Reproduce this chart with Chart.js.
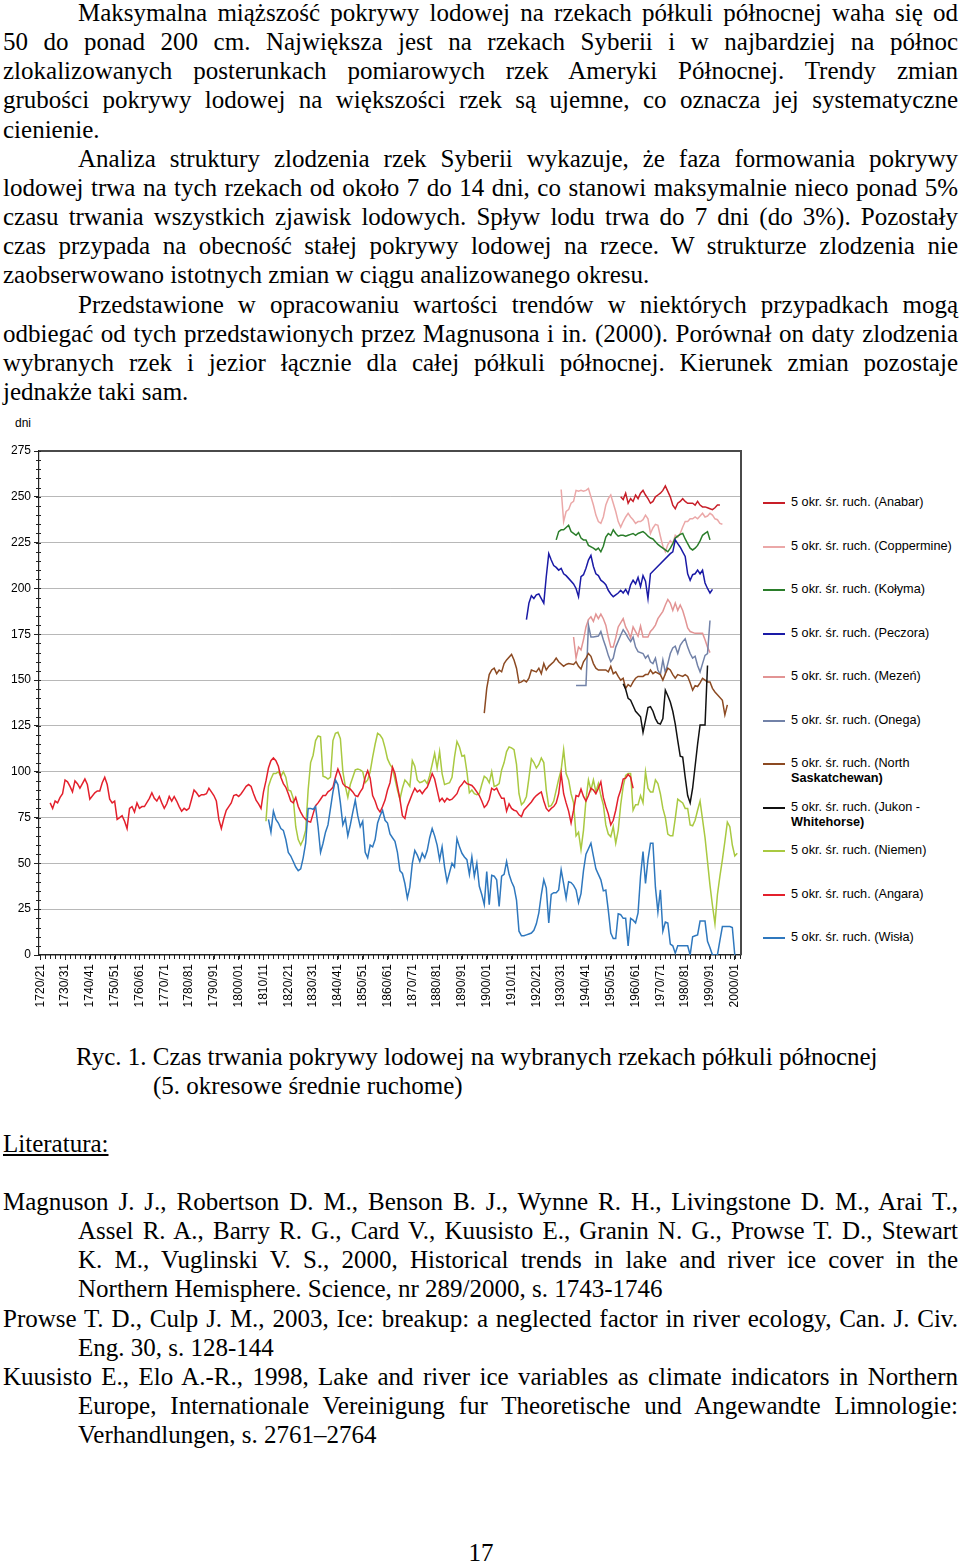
<!DOCTYPE html>
<html lang="pl">
<head>
<meta charset="utf-8">
<title>Czas trwania pokrywy lodowej</title>
<script src="https://cdn.jsdelivr.net/npm/chart.js@4.4.1/dist/chart.umd.min.js"></script>
<style>
  html, body { margin: 0; padding: 0; background: #fff; }
  body { position: relative; width: 960px; height: 1564px; overflow: hidden; color: #000;
         font-family: "Times New Roman", "Liberation Serif", serif; }
  .block { position: absolute; left: 3px; width: 955px; font-size: 25px; line-height: 29.15px; }
  .block div { text-align: justify; text-align-last: justify; }
  .block .in { padding-left: 75px; }
  .block .end { text-align-last: left; }
  .abs { position: absolute; font-size: 25px; line-height: 29px; white-space: nowrap; }
  #chart { position: absolute; left: 0; top: 440px; }
  .axis-title { position: absolute; left: 15px; top: 416px; font: 12px Arial, "Liberation Sans", sans-serif; }
  .leg { position: absolute; left: 763px; font: 12.7px Arial, "Liberation Sans", sans-serif; line-height: 15px; }
  .leg i { position: absolute; left: 0; top: 7px; width: 22px; height: 0; }
  .leg span { display: block; margin-left: 28px; white-space: nowrap; }
  .leg b { display: block; margin-left: 28px; }
</style>
</head>
<body>

<div class="block" style="top:-2px">
  <div class="in">Maksymalna miąższość pokrywy lodowej na rzekach półkuli północnej waha się od</div>
  <div>50 do ponad 200 cm. Największa jest na rzekach Syberii i w najbardziej na północ</div>
  <div>zlokalizowanych posterunkach pomiarowych rzek Ameryki Północnej. Trendy zmian</div>
  <div>grubości pokrywy lodowej na większości rzek są ujemne, co oznacza jej systematyczne</div>
  <div class="end">cienienie.</div>
  <div class="in">Analiza struktury zlodzenia rzek Syberii wykazuje, że faza formowania pokrywy</div>
  <div>lodowej trwa na tych rzekach od około 7 do 14 dni, co stanowi maksymalnie nieco ponad 5%</div>
  <div>czasu trwania wszystkich zjawisk lodowych. Spływ lodu trwa do 7 dni (do 3%). Pozostały</div>
  <div>czas przypada na obecność stałej pokrywy lodowej na rzece. W strukturze zlodzenia nie</div>
  <div class="end">zaobserwowano istotnych zmian w ciągu analizowanego okresu.</div>
  <div class="in">Przedstawione w opracowaniu wartości trendów w niektórych przypadkach mogą</div>
  <div>odbiegać od tych przedstawionych przez Magnusona i in. (2000). Porównał on daty zlodzenia</div>
  <div>wybranych rzek i jezior łącznie dla całej półkuli północnej. Kierunek zmian pozostaje</div>
  <div class="end">jednakże taki sam.</div>
</div>

<div class="axis-title">dni</div>
<canvas id="chart" width="745" height="575"></canvas>
<div id="legend"></div>

<div class="abs" style="left:76px;top:1042px">Ryc. 1. Czas trwania pokrywy lodowej na wybranych rzekach półkuli północnej</div>
<div class="abs" style="left:153px;top:1071px">(5. okresowe średnie ruchome)</div>
<div class="abs" style="left:3px;top:1129px;text-decoration:underline">Literatura:</div>

<div class="block" style="top:1187px">
  <div>Magnuson J. J., Robertson D. M., Benson B. J., Wynne R. H., Livingstone D. M., Arai T.,</div>
  <div class="in">Assel R. A., Barry R. G., Card V., Kuusisto E., Granin N. G., Prowse T. D., Stewart</div>
  <div class="in">K. M., Vuglinski V. S., 2000, Historical trends in lake and river ice cover in the</div>
  <div class="in end">Northern Hemisphere. Science, nr 289/2000, s. 1743-1746</div>
  <div>Prowse T. D., Culp J. M., 2003, Ice: breakup: a neglected factor in river ecology, Can. J. Civ.</div>
  <div class="in end">Eng. 30, s. 128-144</div>
  <div>Kuusisto E., Elo A.-R., 1998, Lake and river ice variables as climate indicators in Northern</div>
  <div class="in">Europe, Internationale Vereinigung fur Theoretische und Angewandte Limnologie:</div>
  <div class="in end">Verhandlungen, s. 2761–2764</div>
</div>

<div class="abs" style="left:0;width:962px;text-align:center;top:1538px">17</div>

<script>
// 5-year moving averages of ice cover duration [season start year, days]
const anabar = [[1954,250],[1955,248.5],[1956,252],[1957,246.5],[1958,249],[1959,247.5],[1960,251],[1961,249],[1962,252],[1963,253.5],[1964,251],[1965,249],[1966,246.5],[1967,247.5],[1968,250],[1969,251],[1970,252],[1971,253.5],[1972,256],[1973,253],[1974,250],[1975,245.5],[1976,243.5],[1977,246.5],[1978,247.5],[1979,249],[1980,247.5],[1981,246.5],[1982,246.5],[1983,246.5],[1984,245.5],[1985,247.5],[1986,245.5],[1987,244.5],[1988,244.5],[1989,244],[1990,243.5],[1991,243],[1992,244],[1993,245.5],[1994,245.5]];

const coppermine = [[1930,254],[1931,236.5],[1932,242],[1933,243],[1934,246.5],[1935,247.5],[1936,253.5],[1937,253],[1938,253.5],[1939,253],[1940,253.5],[1941,254.5],[1942,250],[1943,245.5],[1944,240],[1945,236.5],[1946,235.5],[1947,239],[1948,245.5],[1949,249],[1950,251],[1951,246.5],[1952,242],[1953,236.5],[1954,233.5],[1955,236.5],[1956,239],[1957,241],[1958,239],[1959,237.5],[1960,235.5],[1961,236.5],[1962,236.5],[1963,237.5],[1964,240],[1965,238],[1966,230],[1967,233],[1968,235],[1969,234.5],[1970,228.5],[1971,223],[1972,220],[1973,224],[1974,226],[1975,224.5],[1976,229],[1977,228],[1978,230],[1979,233.5],[1980,236.5],[1981,236.5],[1982,238],[1983,238],[1984,239],[1985,238],[1986,239.5],[1987,241],[1988,239],[1989,239.5],[1990,241],[1991,240],[1992,238],[1993,237.5],[1994,235.5],[1995,235]];

const kolyma = [[1928,226.5],[1929,231],[1930,232],[1931,232],[1933,234.5],[1934,231],[1935,230],[1936,229],[1937,230.5],[1938,227.5],[1939,226.5],[1940,226.5],[1941,223.5],[1943,222],[1944,221],[1945,222],[1946,220],[1947,223],[1948,228],[1949,230],[1950,229],[1951,232],[1952,230],[1953,228.5],[1954,229],[1955,229],[1956,228.5],[1957,229],[1958,229.5],[1959,230],[1960,229],[1961,230],[1962,230.5],[1963,231],[1964,230],[1965,228.5],[1966,227.5],[1967,227],[1968,225.5],[1969,224],[1970,223],[1971,222],[1972,221],[1973,220],[1974,222],[1975,224.5],[1976,227.5],[1977,228.5],[1978,229.5],[1979,230],[1980,227],[1981,224.5],[1982,222],[1983,221],[1984,222],[1985,223.5],[1986,226],[1987,229],[1988,230],[1989,231],[1990,226.5]];

const peczora = [[1916,183],[1917,192],[1918,196],[1919,194.5],[1920,196.5],[1921,197],[1922,194.5],[1923,192],[1924,206.5],[1925,219],[1926,215.5],[1927,212.5],[1928,211.5],[1929,210],[1930,211],[1931,208],[1932,207],[1933,205.5],[1935,202.5],[1936,200],[1937,195.5],[1938,206.5],[1939,207.5],[1940,211],[1941,215.5],[1942,218],[1943,212],[1944,208],[1945,207],[1946,204.5],[1947,203.5],[1948,202],[1949,199],[1950,197],[1951,195.5],[1952,196.5],[1953,197.5],[1954,199],[1955,197.5],[1956,199.5],[1957,197],[1958,202],[1959,204.5],[1960,202.5],[1961,206],[1962,201],[1963,207],[1964,204],[1965,194.5],[1966,208],[1974,219],[1975,220],[1976,226.5],[1977,224.5],[1978,222.5],[1979,220],[1980,217.5],[1981,208],[1982,204.5],[1983,207.5],[1984,208],[1985,210],[1986,208],[1987,210],[1988,203],[1989,200],[1990,197.5],[1991,199.5]];

const mezen = [[1935,173.5],[1936,162],[1937,168],[1938,166.5],[1939,172],[1940,179],[1941,183],[1942,184.5],[1943,182],[1944,186],[1945,183.5],[1946,186],[1947,183.5],[1948,180],[1949,173.5],[1950,168],[1951,168],[1952,173],[1953,179],[1955,183.5],[1956,179],[1957,176.5],[1958,173],[1959,179],[1960,176.5],[1961,174],[1962,179.5],[1963,173.5],[1965,173.5],[1966,176.5],[1967,178],[1968,180],[1969,183.5],[1971,187.5],[1972,191],[1973,194],[1974,192],[1975,188],[1976,192],[1977,188],[1978,191],[1979,188],[1980,183.5],[1981,178.5],[1982,176.5],[1984,175.5],[1986,175.5],[1987,175.5],[1988,172],[1989,168],[1990,165]];

const onega = [[1936,147],[1940,147],[1941,180],[1942,173.5],[1943,173.5],[1945,174],[1946,176.5],[1947,172],[1948,168],[1949,163.5],[1950,160],[1951,162],[1952,168],[1954,174.5],[1955,177.5],[1956,175.5],[1957,173],[1958,171],[1959,173.5],[1960,168],[1961,165.5],[1963,164.5],[1964,162],[1965,163.5],[1966,160],[1967,159],[1968,162],[1969,155.5],[1970,153],[1971,161],[1972,154],[1973,159],[1974,164.5],[1975,167.5],[1976,168.5],[1977,164.5],[1978,169],[1979,171],[1980,172.5],[1981,168],[1982,164.5],[1983,162],[1984,163],[1985,158],[1986,154.5],[1987,159],[1988,163.5],[1989,164.5],[1990,182.5]];

const northSask = [[1899,132],[1900,145.5],[1901,153],[1902,155.5],[1903,156.5],[1904,153.5],[1905,155.5],[1906,154.5],[1907,159],[1908,161],[1910,164],[1911,161],[1912,156.5],[1913,148.5],[1914,149],[1915,150],[1916,149],[1917,151],[1918,155.5],[1920,154.5],[1921,156.5],[1922,153.5],[1923,159],[1924,155.5],[1925,157.5],[1927,160],[1928,162],[1929,160],[1931,157.5],[1932,158.5],[1933,159],[1935,158.5],[1936,160],[1937,157.5],[1938,156],[1939,160],[1940,162],[1941,164.5],[1942,163],[1943,159],[1944,156.5],[1945,155.5],[1946,155.5],[1948,155.5],[1949,154.5],[1950,157.5],[1951,153.5],[1952,154.5],[1953,152],[1954,150],[1955,151],[1956,145.5],[1957,147.5],[1958,146.5],[1959,149],[1960,151],[1961,152],[1963,152],[1964,153],[1965,153],[1966,155.5],[1967,153.5],[1968,154.5],[1970,153],[1971,150],[1972,153.5],[1973,156.5],[1974,155.5],[1975,153],[1976,151],[1977,153],[1979,152],[1980,153],[1981,152],[1982,148.5],[1983,144.5],[1984,147],[1985,146.5],[1986,148.5],[1987,151],[1988,150],[1989,149],[1990,149],[1991,145.5],[1992,143.5],[1993,142],[1995,139],[1996,131],[1997,136.5]];

const jukon = [[1955,148],[1956,145],[1957,140],[1958,139],[1959,136],[1960,133],[1961,131.5],[1962,130],[1963,121.5],[1964,128],[1965,135],[1966,135.5],[1967,133],[1968,129],[1969,126.5],[1970,126],[1971,129],[1972,144.5],[1973,141.5],[1974,138],[1975,133],[1976,126],[1977,117],[1978,108.5],[1979,108],[1980,97],[1981,87],[1982,83],[1983,91],[1984,103],[1985,115],[1986,125.5],[1988,125.5],[1989,158]];

const niemen = [[1811,73],[1812,92],[1813,96],[1814,99],[1815,99],[1816,100],[1817,97.5],[1818,100],[1819,97],[1820,90],[1821,89.5],[1822,85.5],[1823,70],[1824,63],[1825,60],[1826,63],[1827,68],[1828,90],[1829,105],[1830,109],[1831,117],[1832,119.5],[1833,119],[1834,97.5],[1835,97],[1836,96],[1837,97],[1838,117],[1839,121],[1840,121.5],[1841,118],[1842,100],[1843,92],[1844,86],[1845,93],[1846,97],[1847,101],[1848,101.5],[1849,101],[1850,100],[1851,94],[1852,95.5],[1853,100],[1854,108],[1855,115],[1856,121],[1857,120],[1858,118],[1859,113],[1860,107],[1861,104],[1862,102],[1863,96],[1864,90],[1865,85],[1866,91],[1867,95.5],[1868,94],[1869,92],[1870,106],[1871,103],[1872,95.5],[1873,94],[1874,94.5],[1875,95.5],[1876,93.5],[1877,98],[1878,104],[1879,110],[1880,102],[1881,111],[1882,99],[1883,93],[1884,93.5],[1885,94],[1886,97],[1887,108],[1888,116.5],[1889,113.5],[1890,108.5],[1891,109],[1892,100],[1893,88.5],[1894,90],[1895,88],[1896,87.5],[1897,88],[1898,93],[1899,97.5],[1900,96.5],[1901,94],[1902,100],[1903,92],[1904,92.5],[1905,93.5],[1906,101],[1907,105],[1908,111],[1909,113.5],[1910,113],[1911,112],[1912,104],[1913,88],[1914,82],[1915,83.5],[1916,86.5],[1917,96.5],[1918,107],[1919,105],[1920,102],[1921,104],[1922,107.5],[1923,105],[1924,90],[1925,81],[1926,81.5],[1927,84],[1928,90],[1929,96],[1930,101],[1931,112],[1932,99],[1933,95.5],[1934,88],[1935,83],[1936,65],[1937,67],[1938,57.5],[1939,68],[1940,84.5],[1941,95.5],[1942,90],[1943,95.5],[1944,89],[1945,93.5],[1946,87],[1947,82],[1948,71],[1949,66],[1950,64.5],[1951,70],[1952,61],[1953,68],[1954,82],[1955,92],[1956,98],[1957,99],[1958,99],[1959,79],[1960,82],[1961,82],[1962,87],[1963,83],[1964,100],[1965,91],[1966,89],[1967,89],[1968,95.5],[1969,93.5],[1970,88],[1971,80],[1972,75],[1973,66],[1974,65],[1975,65],[1976,74.5],[1977,85],[1978,84],[1979,83],[1980,80],[1981,80],[1982,71],[1983,70.5],[1984,73.5],[1985,79],[1986,84],[1987,74],[1988,64],[1989,51],[1990,38],[1991,27],[1992,17],[1993,33],[1994,43],[1995,52],[1996,62],[1997,72.5],[1998,70],[1999,60],[2000,54],[2001,55.5]];

const angara = [[1724,83],[1725,80],[1726,84],[1727,83],[1728,86],[1729,88],[1730,95.5],[1731,94.5],[1732,92],[1733,89],[1734,95],[1735,93.5],[1736,91],[1737,93.5],[1738,96],[1739,93],[1740,85],[1742,88.5],[1743,89.5],[1744,89.5],[1745,94],[1746,97],[1747,93],[1748,85],[1749,83],[1750,84],[1751,74],[1752,75],[1753,76],[1754,73],[1755,69],[1756,80],[1757,81],[1758,78],[1759,83],[1760,80],[1761,81],[1762,81],[1764,85.5],[1765,88.5],[1766,85.5],[1767,84],[1768,86.5],[1769,83],[1770,80],[1771,82.5],[1772,86.5],[1773,84],[1774,86.5],[1775,84],[1776,81],[1777,78.5],[1778,80],[1779,79],[1780,80],[1781,85],[1782,90],[1783,88.5],[1784,86.5],[1785,87.5],[1786,87.5],[1787,88],[1788,91],[1789,89],[1790,87],[1791,84],[1792,74],[1793,69],[1794,74.5],[1795,79],[1796,81],[1797,83],[1798,87],[1799,87.5],[1800,86.5],[1801,88],[1802,90],[1803,92],[1804,93],[1805,92],[1806,88],[1807,84.5],[1808,82.5],[1809,80],[1810,89],[1811,95],[1812,102],[1813,106],[1814,107.5],[1815,106],[1816,103],[1817,97],[1818,93.5],[1819,91.5],[1820,88],[1821,84],[1822,83],[1823,86],[1824,81],[1825,78],[1826,75.5],[1827,74],[1828,73],[1829,72.5],[1830,77],[1831,81.5],[1832,83],[1833,85],[1834,87],[1835,87],[1836,89],[1837,90],[1838,91.5],[1839,97],[1840,101.5],[1841,98],[1842,93.5],[1843,92],[1844,91.5],[1845,90.5],[1846,89],[1847,87],[1848,86.5],[1849,89],[1850,91],[1851,97],[1852,100.5],[1853,96.5],[1854,87],[1855,84],[1856,80],[1857,78],[1858,81],[1859,84.5],[1860,90],[1861,94],[1862,102.5],[1863,99],[1864,92],[1865,85],[1866,76],[1867,74.5],[1868,81],[1869,84.5],[1870,88],[1871,91],[1872,89],[1873,90],[1874,88],[1875,90],[1876,91.5],[1877,95],[1878,99],[1879,96],[1880,90],[1881,84],[1882,85.5],[1883,83.5],[1884,85.5],[1885,84.5],[1886,85],[1887,86.5],[1888,88],[1889,91.5],[1890,93],[1891,95],[1892,93.5],[1893,93],[1894,92.5],[1895,91],[1896,89],[1897,87],[1898,84],[1899,80.5],[1900,82],[1901,85],[1902,91],[1903,90],[1904,91],[1905,88],[1906,85.5],[1907,85.5],[1908,78.5],[1909,82.5],[1910,80],[1911,79],[1912,78.5],[1913,76.5],[1914,75.5],[1915,79],[1916,80.5],[1917,82],[1918,83.5],[1919,85.5],[1920,87],[1921,88],[1922,89],[1923,84],[1924,80],[1925,78.5],[1926,80],[1927,81],[1928,83],[1929,88],[1930,99],[1931,88],[1932,83],[1933,78.5],[1934,72],[1935,79],[1936,87],[1937,86.5],[1938,90.5],[1939,86.5],[1940,84],[1941,87],[1942,91],[1943,90],[1944,88],[1945,91],[1946,94.5],[1947,86],[1948,81],[1949,77],[1950,71],[1951,73.5],[1952,79],[1953,86],[1954,90],[1955,96],[1956,96.5],[1957,98.5],[1958,97],[1959,91]];

const wisla = [[1812,74],[1813,67],[1814,78.5],[1815,74],[1816,72],[1817,69],[1818,68],[1819,63],[1820,56],[1821,54],[1822,51],[1823,48],[1824,46],[1825,47],[1826,53],[1827,61],[1828,80],[1829,80],[1830,79.5],[1831,81],[1832,70],[1833,56],[1834,61],[1835,67],[1836,71],[1837,80],[1838,89],[1839,95.5],[1840,93],[1841,83],[1842,71],[1843,74.5],[1844,65],[1845,71],[1846,78],[1847,84.5],[1848,76],[1849,70],[1850,73],[1851,56],[1852,53],[1853,60],[1854,59],[1855,63],[1856,72],[1857,76],[1858,79],[1859,73.5],[1860,72],[1861,66],[1862,64],[1863,62],[1864,56],[1865,46],[1866,44.5],[1867,39],[1868,31],[1869,37],[1870,50],[1871,57],[1872,54.5],[1873,51],[1874,55.5],[1875,53],[1876,57],[1877,64],[1878,69],[1879,65],[1880,60],[1881,52],[1882,59],[1883,48],[1884,40],[1885,45],[1886,50],[1887,48],[1888,63.5],[1889,59],[1890,55.5],[1891,53.5],[1892,52],[1893,44],[1894,53.5],[1895,43],[1896,50],[1897,37.5],[1898,33],[1899,27.5],[1900,45.5],[1901,27.5],[1902,43.5],[1903,43],[1904,41],[1905,26.5],[1906,43],[1907,44],[1908,51],[1909,44],[1910,40],[1911,37],[1912,30],[1913,13],[1914,10.5],[1915,10.5],[1916,11],[1917,11.5],[1918,12],[1919,13.5],[1920,17],[1921,23],[1922,33],[1923,41],[1924,36.5],[1925,17.5],[1926,33],[1927,34],[1928,34],[1929,35.5],[1930,46.5],[1931,39],[1932,31],[1933,40],[1934,39.5],[1935,38],[1936,35.5],[1937,28.5],[1938,33.5],[1939,46],[1940,55],[1941,58],[1942,61],[1943,54],[1944,47],[1945,44],[1946,41],[1947,35],[1948,35.5],[1949,24.5],[1950,12],[1951,9],[1952,9],[1953,22.5],[1954,22],[1955,20],[1956,20],[1957,5],[1958,20],[1959,19],[1960,17.5],[1961,23],[1962,43],[1963,56.5],[1964,39],[1965,52],[1966,61],[1967,61],[1968,37],[1969,23.5],[1970,35.5],[1971,13],[1972,18],[1973,17.5],[1974,6],[1975,5],[1976,1],[1977,5],[1978,5],[1979,5],[1980,5],[1981,5],[1982,0],[1983,10],[1984,10.5],[1985,11],[1986,18.5],[1987,18.5],[1988,18.5],[1989,7.5],[1990,4],[1991,0],[1992,0],[1993,0],[1994,8],[1995,15.5],[1996,15.5],[1997,15.5],[1998,15.5],[1999,15],[2000,0]];

const riverNames = ["Anabar", "Coppermine", "Kołyma", "Peczora", "Mezeń", "Onega",
  "North Saskatchewan", "Jukon - Whitehorse", "Niemen", "Angara", "Wisła"];
const riverSeries = [anabar, coppermine, kolyma, peczora, mezen, onega,
  northSask, jukon, niemen, angara, wisla];
const riverColors = ["#c81e28", "#eba8a8", "#2a7d2a", "#1a1aa6", "#e29494", "#7282a8",
  "#8c4a22", "#111111", "#a9c941", "#e3202c", "#2f78be"];

const yearTicks = [1720, 1730, 1740, 1750, 1760, 1770, 1780, 1790, 1800, 1810, 1820, 1830, 1840,
  1850, 1860, 1870, 1880, 1890, 1900, 1910, 1920, 1930, 1940, 1950, 1960, 1970, 1980, 1990, 2000];

const labelFont = { family: "Arial, 'Liberation Sans', sans-serif" };

// frame round the plot plus the small minor tick marks on both axes
const frame = {
  id: "frame",
  beforeDatasetsDraw(chart) {
    const { ctx, chartArea: a, scales: { x, y } } = chart;
    ctx.save();
    ctx.strokeStyle = "#4a4a4a";
    ctx.lineWidth = 2;
    ctx.beginPath();
    ctx.moveTo(a.left, a.top);
    ctx.lineTo(a.right, a.top);
    ctx.lineTo(a.right, a.bottom);
    ctx.stroke();

    ctx.strokeStyle = "#222";
    ctx.lineWidth = 1;
    ctx.beginPath();
    for (let v = 0; v <= 275; v += 5) {
      const py = Math.round(y.getPixelForValue(v)) + 0.5;
      ctx.moveTo(a.left - 3, py);
      ctx.lineTo(a.left + 2, py);
    }
    for (let yr = 1720; yr <= 2002; yr += 2) {
      const px = Math.round(x.getPixelForValue(yr)) + 0.5;
      ctx.moveTo(px, a.bottom);
      ctx.lineTo(px, a.bottom + 4);
    }
    ctx.stroke();
    ctx.restore();
  }
};

document.addEventListener("DOMContentLoaded", () => {
  const datasets = riverNames.map((name, i) => ({
    label: `5 okr. śr. ruch. (${name})`,
    data: riverSeries[i].map(([year, days]) => ({ x: year, y: days })),
    borderColor: riverColors[i],
    borderWidth: 1.5,
    pointRadius: 0,
    fill: false,
    tension: 0,
    order: riverNames.length - i
  }));

  new Chart(document.getElementById("chart"), {
    type: "line",
    data: { datasets },
    options: {
      responsive: false,
      animation: false,
      layout: { padding: { top: 11, right: 4, left: 0, bottom: 0 } },
      plugins: { legend: { display: false }, tooltip: { enabled: false } },
      scales: {
        x: {
          type: "linear",
          min: 1719.5,
          max: 2002.5,
          afterBuildTicks: s => { s.ticks = yearTicks.map(v => ({ value: v })); },
          afterFit: s => {
            s.height = 60;
            s.paddingLeft = 0;
            s.paddingRight = 0;
          },
          ticks: {
            autoSkip: false,
            minRotation: 90,
            maxRotation: 90,
            padding: 4,
            color: "#000",
            font: { ...labelFont, size: 12 },
            callback: v => `${v}/${String((v + 1) % 100).padStart(2, "0")}`
          },
          grid: { drawOnChartArea: false, tickLength: 5, color: "#222" },
          border: { color: "#222", width: 1.2 }
        },
        y: {
          min: 0,
          max: 275,
          afterFit: s => {
            s.width = 39;
            s.paddingTop = 0;
            s.paddingBottom = 0;
          },
          ticks: { stepSize: 25, padding: 3, color: "#000", font: { ...labelFont, size: 12 } },
          grid: { color: "#b8b8b8", lineWidth: 1, tickLength: 5, tickColor: "#222" },
          border: { color: "#222", width: 1.2 }
        }
      }
    },
    plugins: [frame]
  });

  // legend on the right, two-line labels for the long names
  const legend = document.getElementById("legend");
  riverNames.forEach((name, i) => {
    const item = document.createElement("div");
    item.className = "leg";
    item.style.top = (495 + i * 43.5) + "px";
    const text = `5 okr. śr. ruch. (${name})`;
    let html = `<i style="border-top:2px solid ${riverColors[i]}"></i>`;
    if (name.includes(" ")) {
      const cut = text.lastIndexOf(" ");
      html += `<span>${text.slice(0, cut)}</span><b>${text.slice(cut + 1)}</b>`;
    } else {
      html += `<span>${text}</span>`;
    }
    item.innerHTML = html;
    legend.appendChild(item);
  });
});
</script>
</body>
</html>
